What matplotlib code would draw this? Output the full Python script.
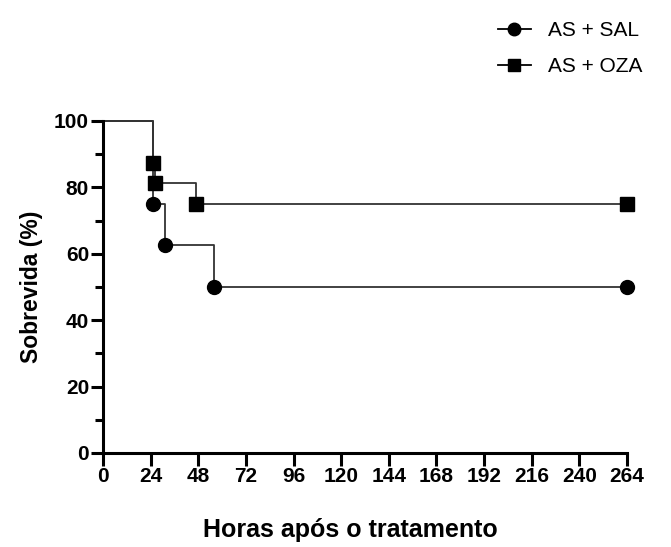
import matplotlib
matplotlib.use("Agg")
import matplotlib.pyplot as plt
from matplotlib.ticker import MultipleLocator
from matplotlib.lines import Line2D

plt.rcParams['font.family'] = ['Liberation Sans', 'DejaVu Sans']

sal_x = [0, 25, 31, 56, 264]
sal_y = [100, 75, 62.5, 50, 50]
oza_x = [0, 25, 26, 47, 264]
oza_y = [100, 87.5, 81.25, 75, 75]
xticks = [0, 24, 48, 72, 96, 120, 144, 168, 192, 216, 240, 264]
yticks = [0, 20, 40, 60, 80, 100]

fig = plt.figure(figsize=(6.71, 5.47), dpi=100)
ax = fig.add_axes([103/671, 94/547, 524/671, 332/547])

lc = '#333333'
for xs, ys, mk in [(sal_x, sal_y, 'o'), (oza_x, oza_y, 's')]:
    ax.plot(xs, ys, drawstyle='steps-post', color=lc, lw=1.3, clip_on=False, zorder=2)
    ax.plot(xs[1:], ys[1:], ls='none', marker=mk, ms=10, color='black', clip_on=False, zorder=3)

ax.set_xlim(0, 264)
ax.set_ylim(0, 100)
ax.set_xticks(xticks)
ax.set_yticks(yticks)
ax.yaxis.set_minor_locator(MultipleLocator(10))
for s in ['top', 'right']:
    ax.spines[s].set_visible(False)
for s in ['left', 'bottom']:
    ax.spines[s].set_linewidth(2.2)
ax.tick_params(which='major', length=9, width=2.2, pad=1, labelsize=15)
ax.tick_params(which='minor', length=6, width=2.2)
for t in ax.get_xticklabels() + ax.get_yticklabels():
    t.set_fontweight('bold')

ax.set_ylabel('Sobrevida (%)', fontsize=16.5, fontweight='bold', labelpad=8)
fig.text(350/671, 1 - 530/547, 'Horas após o tratamento', fontsize=18, fontweight='bold',
         ha='center', va='center')

handles = [Line2D([], [], color='black', lw=1.3, marker='o', ms=9),
           Line2D([], [], color='black', lw=1.3, marker='s', ms=9)]
fig.legend(handles, ['AS + SAL', 'AS + OZA'], loc='upper right', bbox_to_anchor=(0.985, 0.995),
           frameon=False, fontsize=15, handlelength=1.6, handletextpad=0.8, labelspacing=0.8)

fig.savefig('out.png', dpi=100)
